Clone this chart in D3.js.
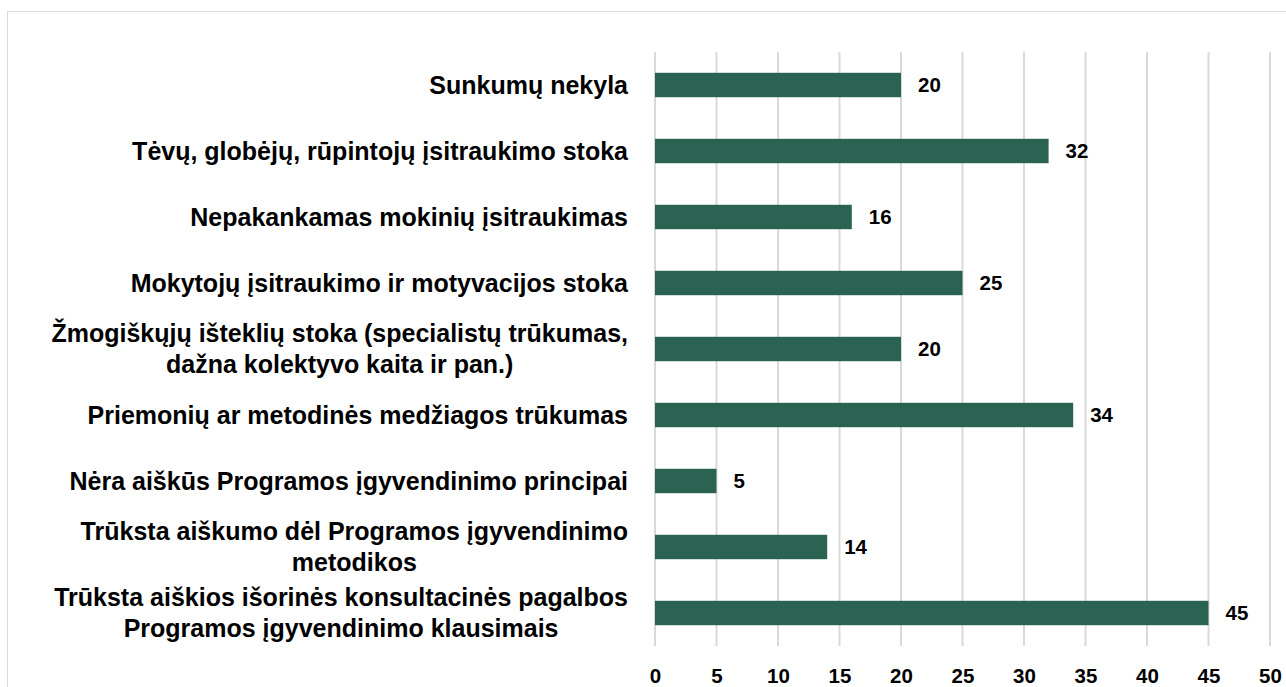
<!DOCTYPE html>
<html>
<head>
<meta charset="utf-8">
<script src="https://cdn.jsdelivr.net/npm/d3@7"></script>
<style>
  body { margin: 0; background: #fff; }
  svg { display: block; }
</style>
</head>
<body>
<div id="chart"></div>
<script>
// categories, top to bottom (line breaks as in the picture)
const categories = [
  ["Sunkumų nekyla"],
  ["Tėvų, globėjų, rūpintojų įsitraukimo stoka"],
  ["Nepakankamas mokinių įsitraukimas"],
  ["Mokytojų įsitraukimo ir motyvacijos stoka"],
  ["Žmogiškųjų išteklių stoka (specialistų trūkumas,", "dažna kolektyvo kaita ir pan.)"],
  ["Priemonių ar metodinės medžiagos trūkumas"],
  ["Nėra aiškūs Programos įgyvendinimo principai"],
  ["Trūksta aiškumo dėl Programos įgyvendinimo", "metodikos"],
  ["Trūksta aiškios išorinės konsultacinės pagalbos", "Programos įgyvendinimo klausimais"]
];
const values = [20, 32, 16, 25, 20, 34, 5, 14, 45];
const xTicks = [0, 5, 10, 15, 20, 25, 30, 35, 40, 45, 50];

const W = 1286, H = 687;
const margin = {top: 52, right: 16, bottom: 41, left: 655};
const width = W - margin.left - margin.right,
      height = H - margin.top - margin.bottom;

const svg = d3.select("#chart").append("svg")
  .attr("width", W)
  .attr("height", H)
  .style("font-family", "'Liberation Sans', Arial, sans-serif");

// outer chart border
svg.append("rect")
  .attr("x", 7.5).attr("y", 11.5)
  .attr("width", W + 10).attr("height", H + 10)
  .attr("fill", "none")
  .attr("stroke", "#d9d9d9");

const g = svg.append("g")
  .attr("transform", `translate(${margin.left},${margin.top})`);

const x = d3.scaleLinear().domain([0, 50]).range([0, width]);
const y = d3.scaleBand()
  .domain(d3.range(categories.length))
  .range([0, height])
  .paddingInner(0.63)
  .paddingOuter(0.315);

// vertical gridlines
g.append("g")
  .selectAll("line")
  .data(xTicks)
  .join("line")
  .attr("x1", d => x(d)).attr("x2", d => x(d))
  .attr("y1", 0).attr("y2", height)
  .attr("stroke", "#d9d9d9")
  .attr("stroke-width", 2);

// x axis labels
const xAxis = g.append("g")
  .attr("transform", `translate(0,${height})`)
  .call(d3.axisBottom(x).tickValues(xTicks).tickSize(0).tickPadding(22));
xAxis.select(".domain").remove();
xAxis.selectAll("text")
  .attr("font-size", 20.5)
  .attr("font-weight", "bold")
  .attr("fill", "#000")
  .style("font-family", "'Liberation Sans', Arial, sans-serif");

// bars
g.selectAll("rect.bar")
  .data(values)
  .join("rect")
  .attr("class", "bar")
  .attr("x", x(0))
  .attr("y", (d, i) => y(i))
  .attr("width", d => x(d) - x(0))
  .attr("height", y.bandwidth())
  .attr("fill", "#2a6351");

// value labels
g.selectAll("text.val")
  .data(values)
  .join("text")
  .attr("class", "val")
  .attr("x", d => x(d) + 17)
  .attr("y", (d, i) => y(i) + y.bandwidth() / 2)
  .attr("dy", "0.36em")
  .attr("font-size", 20.5)
  .attr("font-weight", "bold")
  .text(d => d);

// category labels
const labelRight = -27;
const lineH = 31;
categories.forEach((lines, i) => {
  const cy = margin.top + y(i) + y.bandwidth() / 2;
  const t = svg.append("text")
    .attr("font-size", 25)
    .attr("font-weight", "bold")
    .attr("fill", "#000");
  const first = t.append("tspan").text(lines[0]);
  const w = first.node().getComputedTextLength();
  const cx = margin.left + labelRight - w / 2;
  t.attr("text-anchor", "middle");
  lines.forEach((ln, k) => {
    const ts = k === 0 ? first : t.append("tspan").text(ln);
    ts.attr("x", cx)
      .attr("y", cy + (k - (lines.length - 1) / 2) * lineH)
      .attr("dy", "0.35em");
  });
});
</script>
</body>
</html>
